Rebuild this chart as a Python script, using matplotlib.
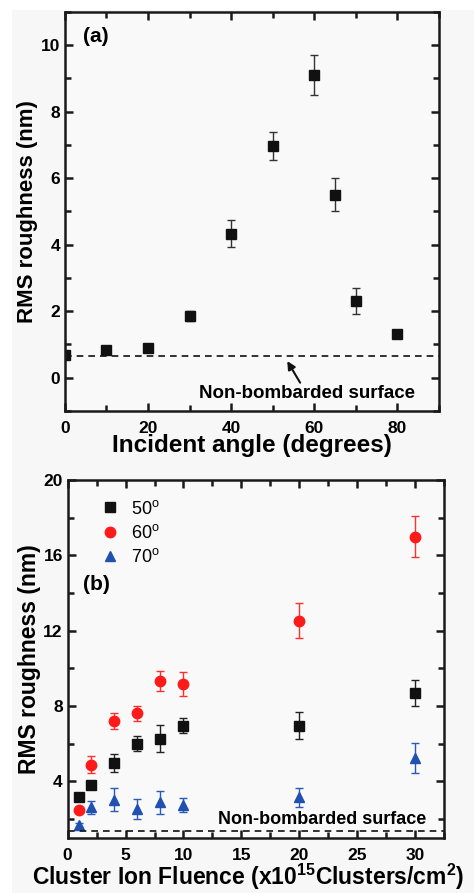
import matplotlib
matplotlib.use('Agg')
import matplotlib.pyplot as plt
from matplotlib.patches import Rectangle
from matplotlib.ticker import MultipleLocator

plt.rcParams['font.family'] = ['Liberation Sans', 'DejaVu Sans']
plt.rcParams['mathtext.fontset'] = 'custom'
plt.rcParams['mathtext.rm'] = 'Liberation Sans'
plt.rcParams['mathtext.bf'] = 'Liberation Sans:bold'

# (a) roughness vs incident angle
angle = [0, 10, 20, 30, 40, 50, 60, 65, 70, 80]
rms_a = [0.68, 0.82, 0.88, 1.87, 4.33, 6.98, 9.1, 5.51, 2.31, 1.3]
err_a = [0.1, 0.1, 0.08, 0.15, 0.4, 0.42, 0.6, 0.5, 0.38, 0.12]
base_a = 0.64

# (b) roughness vs fluence
fluence = [1, 2, 4, 6, 8, 10, 20, 30]
rms_50 = [3.2, 3.82, 4.97, 6.0, 6.28, 6.97, 6.97, 8.69]
err_50 = [0.15, 0.15, 0.48, 0.4, 0.72, 0.42, 0.7, 0.68]
rms_60 = [2.5, 4.89, 7.22, 7.61, 9.31, 9.17, 12.53, 17.0]
err_60 = [0.1, 0.44, 0.44, 0.4, 0.53, 0.62, 0.93, 1.08]
rms_70 = [1.7, 2.62, 3.03, 2.53, 2.89, 2.73, 3.15, 5.24]
err_70 = [0.12, 0.33, 0.6, 0.52, 0.62, 0.37, 0.48, 0.78]
base_b = 1.35
labels_b = ['50$^{\\rm o}$', '60$^{\\rm o}$', '70$^{\\rm o}$']

fig = plt.figure(figsize=(4.74, 8.93), dpi=100, facecolor='white')
fig.patches.append(Rectangle((12/474, 0), 1, 1 - 10/893, transform=fig.transFigure,
                             facecolor='#f7f7f7', edgecolor='none', zorder=-10))

def style_axes(ax):
    ax.set_facecolor('#f9f9f9')
    for s in ax.spines.values():
        s.set_linewidth(1.8)
        s.set_color('#1a1a1a')
    ax.tick_params(which='both', direction='in', top=True, right=True,
                   width=1.8, color='#1a1a1a', labelsize=12.5)
    ax.tick_params(which='major', length=6)
    ax.tick_params(which='minor', length=4)
    ax.tick_params(axis='x', pad=7)
    for lab in ax.get_xticklabels() + ax.get_yticklabels():
        lab.set_fontweight('bold')

# ---- panel (a)
ax1 = fig.add_axes([0.137, 0.5398, 0.789, 0.4468])
ax1.errorbar(angle, rms_a, yerr=err_a, fmt='none', ecolor='#333333', elinewidth=1.0,
             capsize=3, capthick=1.0)
ax1.plot(angle, rms_a, 's', color='#111111', ms=6.5)
ax1.axhline(base_a, color='#111111', ls=(0, (4, 3)), lw=1.2)
ax1.set_xlim(0, 90)
ax1.set_ylim(-1, 11)
ax1.xaxis.set_major_locator(MultipleLocator(20))
ax1.xaxis.set_minor_locator(MultipleLocator(10))
ax1.yaxis.set_major_locator(MultipleLocator(2))
ax1.yaxis.set_minor_locator(MultipleLocator(1))
style_axes(ax1)
ax1.set_xlabel('Incident angle (degrees)', fontsize=17.5, fontweight='bold', labelpad=-1)
ax1.set_ylabel('RMS roughness (nm)', fontsize=16, fontweight='bold', labelpad=2)
ax1.text(4.3, 10.25, '(a)', fontsize=15, fontweight='bold', va='center', ha='left')
ax1.text(58.3, -0.48, 'Non-bombarded surface', ha='center', va='center',
         fontsize=13.5, fontweight='bold')
ax1.annotate('', xy=(53.5, 0.5), xytext=(56.6, -0.15),
             arrowprops=dict(arrowstyle='-|>', color='#111111', lw=1.5,
                             mutation_scale=12, shrinkA=0, shrinkB=0))

# ---- panel (b)
ax2 = fig.add_axes([0.1428, 0.0616, 0.794, 0.4009])
series = [(rms_50, err_50, 's', '#111111', '#222222'),
          (rms_60, err_60, 'o', '#ff1a1a', '#ff3030'),
          (rms_70, err_70, '^', '#2050b0', '#2a5ab8')]
for (ys, es, m, c, ec), lab in zip(series, labels_b):
    ax2.errorbar(fluence, ys, yerr=es, fmt='none', ecolor=ec, elinewidth=1.0,
                 capsize=3, capthick=1.0)
    ax2.plot(fluence, ys, m, color=c, ms=7.5 if m != 's' else 6.5, label=lab)
ax2.axhline(base_b, color='#111111', ls=(0, (4, 3)), lw=1.2)
ax2.set_xlim(0, 32.5)
ax2.set_ylim(1, 20)
ax2.xaxis.set_major_locator(MultipleLocator(5))
ax2.xaxis.set_minor_locator(MultipleLocator(2.5))
ax2.set_yticks([4, 8, 12, 16, 20])
ax2.yaxis.set_minor_locator(MultipleLocator(2))
style_axes(ax2)
ax2.set_xlabel('Cluster Ion Fluence (x10$^{\\mathbf{15}}$Clusters/cm$^{\\mathbf{2}}$)',
               fontsize=16.5, fontweight='bold', va='center')
ax2.xaxis.set_label_coords(0.479, -0.11)
ax2.set_ylabel('RMS roughness (nm)', fontsize=16.5, fontweight='bold', labelpad=2)
ax2.text(1.3, 14.45, '(b)', fontsize=15, fontweight='bold', va='center', ha='left')
ax2.text(22.0, 1.97, 'Non-bombarded surface', fontsize=13, fontweight='bold',
         ha='center', va='center')
ax2.legend(loc='upper left', bbox_to_anchor=(0.04, 0.99), frameon=False,
           fontsize=13, handletextpad=0.6, labelspacing=0.35, handlelength=1.2)

fig.savefig('out.png', dpi=100, facecolor=fig.get_facecolor())
